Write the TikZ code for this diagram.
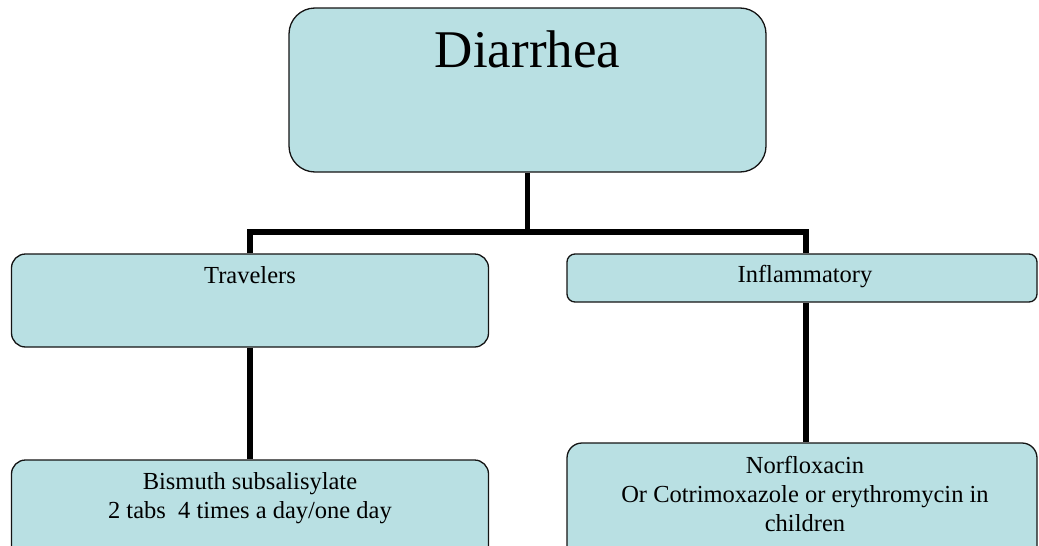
\documentclass[tikz,border=0pt]{standalone}
\usepackage{fontspec}
\setmainfont{Liberation Serif}
\definecolor{boxfill}{RGB}{185,224,227}
\definecolor{boxline}{RGB}{20,20,20}
\begin{document}
\begin{tikzpicture}[x=1pt,y=-1pt,
  box/.style={draw=boxline, line width=1.3pt, fill=boxfill, rectangle, inner sep=0pt},
  conn/.style={line width=5.5pt, black},
  lbl/.style={font=\fontsize{24.5}{29}\selectfont, text width=460pt, align=flush center, anchor=base, inner sep=0pt},
  big/.style={font=\fontsize{53}{60}\selectfont, anchor=base, inner sep=0pt}]
\useasboundingbox (0,0) rectangle (1039,546);
\clip (0,0) rectangle (1039,546);
\node[box, rounded corners=26pt, minimum width=477pt, minimum height=164pt] (d) at (527.5,90) {};
\node[box, rounded corners=14pt, minimum width=477pt, minimum height=93pt] (t) at (250,300.5) {};
\node[box, rounded corners=8pt, minimum width=470pt, minimum height=48pt] (i) at (802,278) {};
\node[box, rounded corners=14pt, minimum width=477pt, minimum height=120pt] (b) at (250,520) {};
\node[box, rounded corners=15pt, minimum width=470pt, minimum height=137pt] (n) at (802,511.5) {};
\coordinate (j) at (527.5,232);
\coordinate (cx) at (806,232);
\draw[conn] (d.south) -- (j);
\draw[conn] (t.north) |- (cx) -- (cx |- i.north);
\draw[conn] (t.south) -- (b.north);
\draw[conn] (i.south -| cx) -- (n.north -| cx);
\node[big] (dl) at (527.5,67) {Diarrhea};
\node[lbl] (tl) at (250,283) {Travelers};
\node[lbl] (il) at (805,282) {Inflammatory};
\node[lbl] (bl) at (250,489) {Bismuth subsalisylate\\2 tabs\ \ 4 times a day/one day};
\node[lbl] (nl) at (805,473) {Norfloxacin\\Or Cotrimoxazole or erythromycin in\\children};
\end{tikzpicture}
\end{document}
